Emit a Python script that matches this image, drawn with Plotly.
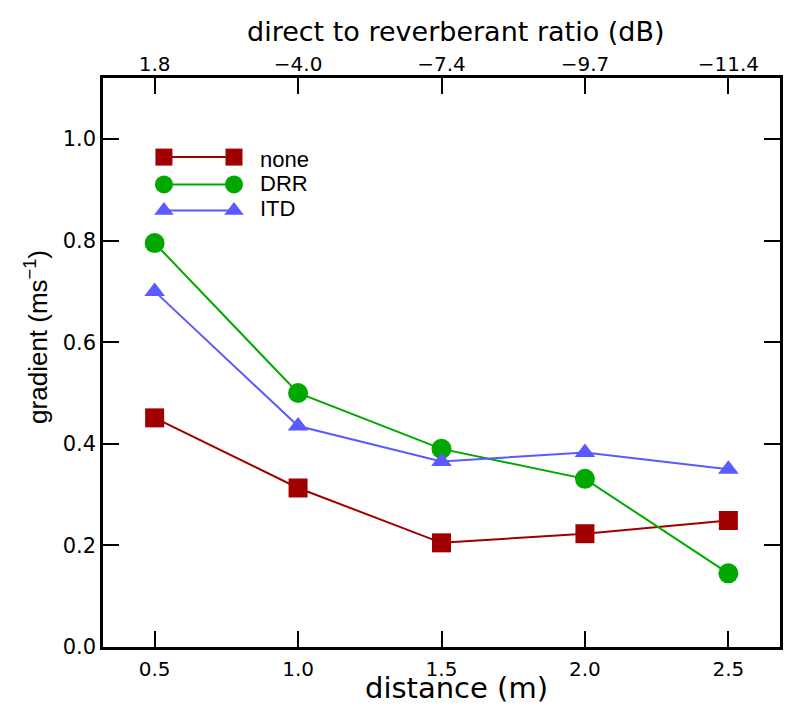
import plotly.graph_objects as go

distance = [0.5, 1.0, 1.5, 2.0, 2.5]
distance_labels = ["0.5", "1.0", "1.5", "2.0", "2.5"]
drr_labels = ["1.8", "\u22124.0", "\u22127.4", "\u22129.7", "\u221211.4"]
none_vals = [0.451, 0.313, 0.205, 0.223, 0.249]
drr_vals = [0.795, 0.500, 0.390, 0.331, 0.145]
itd_vals = [0.700, 0.435, 0.365, 0.383, 0.350]
y_ticks = [0.0, 0.2, 0.4, 0.6, 0.8, 1.0]
series_names = ["none", "DRR", "ITD"]

colors = {"none": "#a00000", "DRR": "#00a800", "ITD": "#5a5aff"}
symbols = {"none": "square", "DRR": "circle", "ITD": "triangle-up"}
sizes = {"none": 19, "DRR": 20, "ITD": 18}
leg_sizes = {"none": 17, "DRR": 18, "ITD": 17}
values = {"none": none_vals, "DRR": drr_vals, "ITD": itd_vals}

dv = "DejaVu Sans, sans-serif"
lib = "Liberation Sans, Arial, sans-serif"
xtick_font = dict(family=dv, size=20, color="black")
ytick_font = dict(family=dv, size=21, color="black")

fig = go.Figure()
for name in series_names:
    fig.add_trace(go.Scatter(
        x=distance, y=values[name], mode="lines+markers", name=name,
        line=dict(color=colors[name], width=2),
        marker=dict(symbol=symbols[name], size=sizes[name], color=colors[name]),
        showlegend=False, xaxis="x", yaxis="y"))

# custom legend glyphs (marker - line - marker), drawn in an overlay axis of unit range
leg_x = [0.090, 0.1935]
leg_y = {"none": 0.861, "DRR": 0.813, "ITD": 0.767}
leg_text_y = {"none": 0.857, "DRR": 0.815, "ITD": 0.770}
leg_text_x = 0.229
for name in series_names:
    fig.add_trace(go.Scatter(
        x=leg_x, y=[leg_y[name]] * 2, mode="lines+markers",
        line=dict(color=colors[name], width=2),
        marker=dict(symbol=symbols[name], size=leg_sizes[name], color=colors[name]),
        showlegend=False, xaxis="x3", yaxis="y3", hoverinfo="skip"))
    fig.add_annotation(x=leg_text_x, y=leg_text_y[name], xref="x3", yref="y3",
                       text=name, showarrow=False, xanchor="left", yanchor="middle",
                       font=dict(family=lib, size=22, color="black"))

# invisible trace to activate the top axis
fig.add_trace(go.Scatter(x=distance, y=none_vals, xaxis="x2", yaxis="y",
                         mode="markers", marker=dict(opacity=0), showlegend=False,
                         hoverinfo="skip"))

# axis titles
fig.add_annotation(x=0.522, y=-0.072, xref="paper", yref="paper", text="distance (m)",
                   showarrow=False, xanchor="center", yanchor="middle",
                   font=dict(family=dv, size=29, color="black"))
fig.add_annotation(x=0.522, y=1.081, xref="paper", yref="paper",
                   text="direct to reverberant ratio (dB)",
                   showarrow=False, xanchor="center", yanchor="middle",
                   font=dict(family=dv, size=27, color="black"))
fig.add_annotation(x=-0.0975, y=0.545, xref="paper", yref="paper",
                   text="gradient (ms<sup>\u22121</sup>)", textangle=-90,
                   showarrow=False, xanchor="center", yanchor="middle",
                   font=dict(family=lib, size=26, color="black"))

xr = [0.32, 2.68]
common = dict(ticks="inside", ticklen=16, tickwidth=2, tickcolor="black",
              showline=True, linecolor="black", linewidth=2.5,
              showgrid=False, zeroline=False, automargin=False)
fig.update_layout(
    width=800, height=720,
    paper_bgcolor="white", plot_bgcolor="white",
    margin=dict(l=95, r=28, t=70, b=81, autoexpand=False),
    showlegend=False,
    xaxis=dict(range=xr, tickvals=distance, ticktext=distance_labels,
               tickfont=xtick_font, mirror=False, ticklabelstandoff=2, **common),
    xaxis2=dict(range=xr, overlaying="x", side="top", tickvals=distance, ticktext=drr_labels,
                tickfont=xtick_font, ticklabelstandoff=-4, **common),
    yaxis=dict(range=[0, 1.12], tickvals=y_ticks, ticktext=[f"{v:.1f}" for v in y_ticks],
               tickfont=ytick_font, mirror="ticks", **common),
    xaxis3=dict(range=[0, 1], overlaying="x", visible=False, fixedrange=True),
    yaxis3=dict(range=[0, 1], overlaying="y", visible=False, fixedrange=True),
)

fig.write_html("out.html")
